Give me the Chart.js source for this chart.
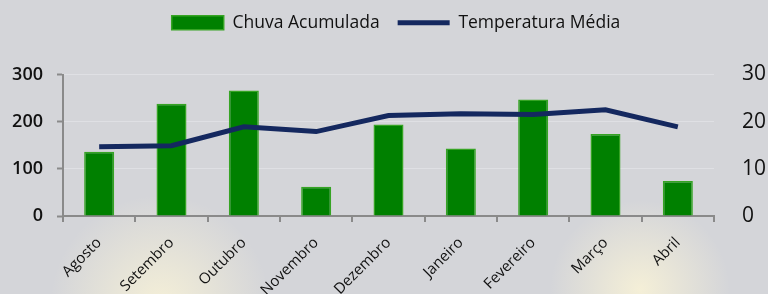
<!DOCTYPE html>
<html>
<head>
<meta charset="utf-8">
<script src="https://cdn.jsdelivr.net/npm/chart.js@4/dist/chart.umd.min.js"></script>
<style>
  html, body { margin: 0; padding: 0; }
  body { width: 768px; height: 294px; overflow: hidden; }
  #wrap { width: 768px; height: 294px; position: relative; }
</style>
</head>
<body>
<div id="wrap"><canvas id="chart" width="768" height="294"></canvas></div>
<script>
// data
const meses = ["Agosto", "Setembro", "Outubro", "Novembro", "Dezembro", "Janeiro", "Fevereiro", "Março", "Abril"];
const chuva = [136, 238, 266, 62, 194, 143, 247, 174, 74];
const temperatura = [14.7, 14.9, 18.9, 17.9, 21.3, 21.7, 21.5, 22.5, 18.9];
const ticksChuva = [0, 100, 200, 300];
const ticksTemp = [0, 10, 20, 30];

const fontFamily = "'Open Sans', sans-serif";

// grey starry-ish backdrop
const backdrop = {
    id: "backdrop",
    beforeDraw(chart) {
        const ctx = chart.ctx;
        const w = chart.width, h = chart.height;
        ctx.save();
        ctx.fillStyle = "#d4d5d9";
        ctx.fillRect(0, 0, w, h);
        // soft glows near the bottom
        [[160, 305, 110], [640, 290, 90]].forEach(([x, y, r]) => {
            const g = ctx.createRadialGradient(x, y, 0, x, y, r);
            g.addColorStop(0, "rgba(248,242,215,0.9)");
            g.addColorStop(1, "rgba(248,242,215,0)");
            ctx.fillStyle = g;
            ctx.fillRect(x - r, y - r, r * 2, r * 2);
        });
        ctx.restore();
    }
};

// push the chart area down below the legend, nudge legend a bit right
const legendSpace = {
    id: "legendSpace",
    beforeInit(chart) {
        const legend = chart.legend;
        const fit = legend.fit;
        legend.fit = function () {
            fit.call(this);
            this.height += 31;
        };
        const draw = legend.draw;
        legend.draw = function () {
            const ctx = chart.ctx;
            ctx.save();
            ctx.translate(12, -2);
            draw.call(this);
            ctx.restore();
        };
    }
};

new Chart(document.getElementById("chart"), {
    type: "bar",
    data: {
        labels: meses,
        datasets: [
            {
                type: "line",
                label: "Temperatura Média",
                data: temperatura,
                yAxisID: "yTemp",
                borderColor: "#14285f",
                backgroundColor: "#14285f",
                borderWidth: 5,
                pointRadius: 0,
                pointStyle: "line",
                tension: 0,
                order: 0,
            },
            {
                label: "Chuva Acumulada",
                data: chuva,
                yAxisID: "yChuva",
                backgroundColor: "#008000",
                borderColor: "#36a424",
                borderWidth: 1.5,
                pointStyle: "rect",
                barPercentage: 0.83,
                categoryPercentage: 0.5,
                order: 1,
            },
        ],
    },
    options: {
        responsive: false,
        animation: false,
        layout: { padding: { top: -2, left: 0, right: 0, bottom: 0 } },
        plugins: {
            tooltip: { enabled: false },
            legend: {
                position: "top",
                reverse: true,
                labels: {
                    usePointStyle: true,
                    pointStyleWidth: 52,
                    boxHeight: 14,
                    padding: 18,
                    color: "#111",
                    font: { family: fontFamily, size: 17.5 },
                },
            },
        },
        scales: {
            x: {
                grid: {
                    offset: true,
                    drawOnChartArea: false,
                    drawTicks: true,
                    tickLength: 6,
                    tickColor: "#8a8a8a",
                    lineWidth: 2,
                },
                border: { display: true, color: "#8a8a8a", width: 2 },
                ticks: {
                    color: "#111",
                    minRotation: 45,
                    maxRotation: 45,
                    autoSkip: false,
                    padding: 12,
                    font: { family: fontFamily, size: 15 },
                },
                afterFit(scale) { scale.height = 78; },
            },
            yChuva: {
                position: "left",
                min: 0,
                max: 300,
                afterBuildTicks(scale) { scale.ticks = ticksChuva.map(v => ({ value: v })); },
                grid: {
                    color: "rgba(225,226,230,0.8)",
                    lineWidth: 1,
                    drawTicks: true,
                    tickLength: 6,
                    tickColor: "#8a8a8a",
                    tickWidth: 2,
                },
                border: { display: true, color: "#8a8a8a", width: 2 },
                ticks: {
                    color: "#111",
                    padding: 14,
                    font: { family: fontFamily, size: 18, weight: "600" },
                },
                afterFit(scale) { scale.width = 63; },
            },
            yTemp: {
                position: "right",
                min: 0,
                max: 30,
                afterBuildTicks(scale) { scale.ticks = ticksTemp.map(v => ({ value: v })); },
                grid: { display: false, drawTicks: false },
                border: { display: false },
                ticks: {
                    color: "#111",
                    padding: 28,
                    font: { family: fontFamily, size: 21 },
                },
                afterFit(scale) { scale.width = 54; },
            },
        },
    },
    plugins: [backdrop, legendSpace],
});
</script>
</body>
</html>
